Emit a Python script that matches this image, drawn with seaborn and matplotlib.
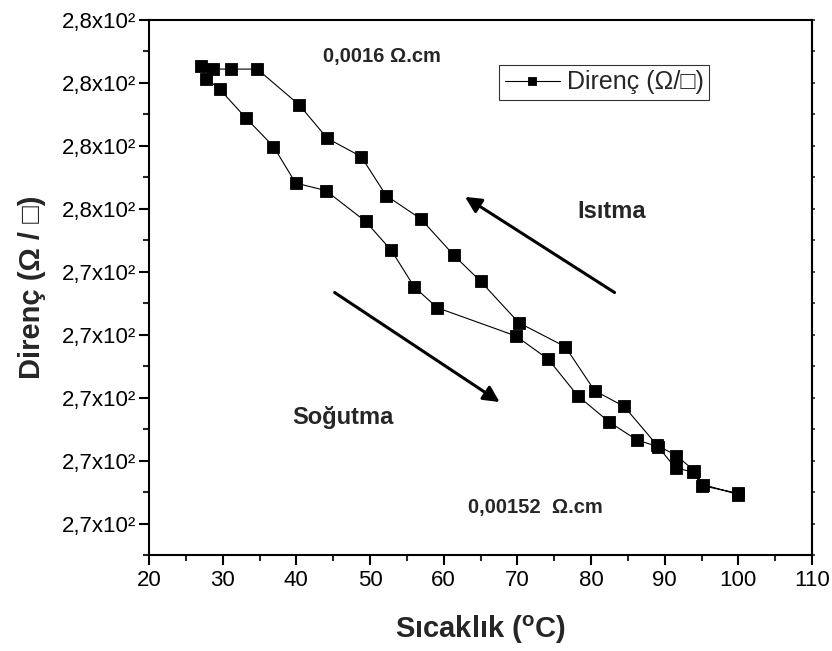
import matplotlib
matplotlib.use("Agg")
import matplotlib.pyplot as plt
import seaborn as sns
import pandas as pd
from matplotlib.ticker import MultipleLocator, FixedLocator, FixedFormatter, NullFormatter

# ---------------- data ----------------
temperature = [100, 95.1, 93.9, 91.5, 89.1, 86.2, 82.5, 78.2, 74.2, 69.8,
               59.1, 56.0, 52.9, 49.4, 44.0, 39.9, 36.9, 33.1, 29.6, 27.8,
               27.0, 28.7, 31.1, 34.7, 40.4, 44.2, 48.8, 52.2, 56.9, 61.4,
               65.0, 70.2, 76.5, 80.5, 84.5, 89.0, 91.6, 94.0, 95.2, 100]
resistance = [270.48, 270.60, 270.82, 270.88, 271.22, 271.33, 271.61, 272.03, 272.61, 272.98,
              273.43, 273.76, 274.34, 274.80, 275.29, 275.41, 275.99, 276.45, 276.90, 277.07,
              277.27, 277.22, 277.22, 277.22, 276.65, 276.12, 275.83, 275.21, 274.84, 274.26,
              273.85, 273.19, 272.81, 272.11, 271.86, 271.24, 271.08, 270.84, 270.62, 270.46]

x_ticks = [20, 30, 40, 50, 60, 70, 80, 90, 100, 110]
y_ticks = [270, 271, 272, 273, 274, 275, 276, 277, 278]
y_tick_labels = ["2,7x10²", "2,7x10²", "2,7x10²", "2,7x10²", "2,7x10²",
                 "2,8x10²", "2,8x10²", "2,8x10²", "2,8x10²"]

series_label = "Direnç (Ω/□)"
x_label = r"Sıcaklık ($\mathbf{^{o}}$C)"
y_label = "Direnç (Ω / □)"

notes = ["0,0016 Ω.cm", "0,00152  Ω.cm", "Isıtma", "Soğutma"]
note_x = [43.6, 63.3, 78.1, 39.5]
note_y = [277.42, 270.25, 274.96, 271.68]
note_size = [14.5, 14.5, 17, 17]

arrow_tail = [(83.2, 273.67), (45.2, 273.67)]
arrow_head = [(62.9, 275.19), (67.6, 271.93)]

# ---------------- style ----------------
sns.set_style("white")
plt.rcParams["font.family"] = ["Liberation Sans", "DejaVu Sans"]
plt.rcParams["mathtext.fontset"] = "custom"
plt.rcParams["mathtext.rm"] = "Liberation Sans"
plt.rcParams["mathtext.bf"] = "Liberation Sans:bold"

fig = plt.figure(figsize=(8.32, 6.51), dpi=100)
ax = fig.add_axes([149/832, 1 - 555/651, (812-149)/832, (555-20)/651])

df = pd.DataFrame({"T": temperature, "R": resistance})
sns.lineplot(data=df, x="T", y="R", sort=False, estimator=None, ax=ax,
             color="black", linewidth=0.8, marker="s", markersize=8.8,
             markeredgecolor="black", markeredgewidth=0.6, label=series_label)

ax.set_xlim(20, 110)
ax.set_ylim(269.5, 278)
ax.xaxis.set_major_locator(FixedLocator(x_ticks))
ax.xaxis.set_minor_locator(MultipleLocator(5))
ax.yaxis.set_major_locator(FixedLocator(y_ticks))
ax.yaxis.set_major_formatter(FixedFormatter(y_tick_labels))
ax.yaxis.set_minor_locator(MultipleLocator(0.5))

for s in ax.spines.values():
    s.set_linewidth(1.5)
    s.set_color("black")

ax.tick_params(axis="both", which="major", direction="out", length=7.5, width=1.5,
               labelsize=16, colors="black")
ax.tick_params(axis="both", which="minor", direction="out", length=4, width=1.5)
ax.tick_params(axis="y", which="both", left=True, right=False, pad=1.5)
ax.tick_params(axis="x", which="both", bottom=True, top=False, pad=3.5)

# small mirrored ticks on the right spine
sec = ax.secondary_yaxis("right")
sec.yaxis.set_major_locator(FixedLocator(y_ticks))
sec.yaxis.set_minor_locator(MultipleLocator(0.5))
sec.yaxis.set_major_formatter(NullFormatter())
sec.tick_params(axis="y", which="both", direction="out", length=2.5, width=1.2)
sec.spines["right"].set_linewidth(1.5)

ax.set_xlabel(x_label, fontsize=21, fontweight="bold", labelpad=16)
ax.set_ylabel(y_label, fontsize=21, fontweight="bold", labelpad=12)

for txt, x, y, fs in zip(notes, note_x, note_y, note_size):
    ax.text(x, y, txt, fontsize=fs, fontweight="bold", ha="left", va="center")

for tail, head in zip(arrow_tail, arrow_head):
    ax.annotate("", xy=head, xytext=tail,
                arrowprops=dict(arrowstyle="-|>", color="black", lw=2.2,
                                mutation_scale=24, shrinkA=0, shrinkB=0))

leg = ax.legend(loc="upper left", bbox_to_anchor=(0.528, 0.916), borderaxespad=0,
                fontsize=18, frameon=True, fancybox=False, handlelength=2.2,
                handletextpad=0.3, borderpad=0.22, markerscale=0.7)
leg.get_frame().set_edgecolor("black")
leg.get_frame().set_linewidth(0.8)

fig.savefig("out.png", dpi=100, facecolor="white")
